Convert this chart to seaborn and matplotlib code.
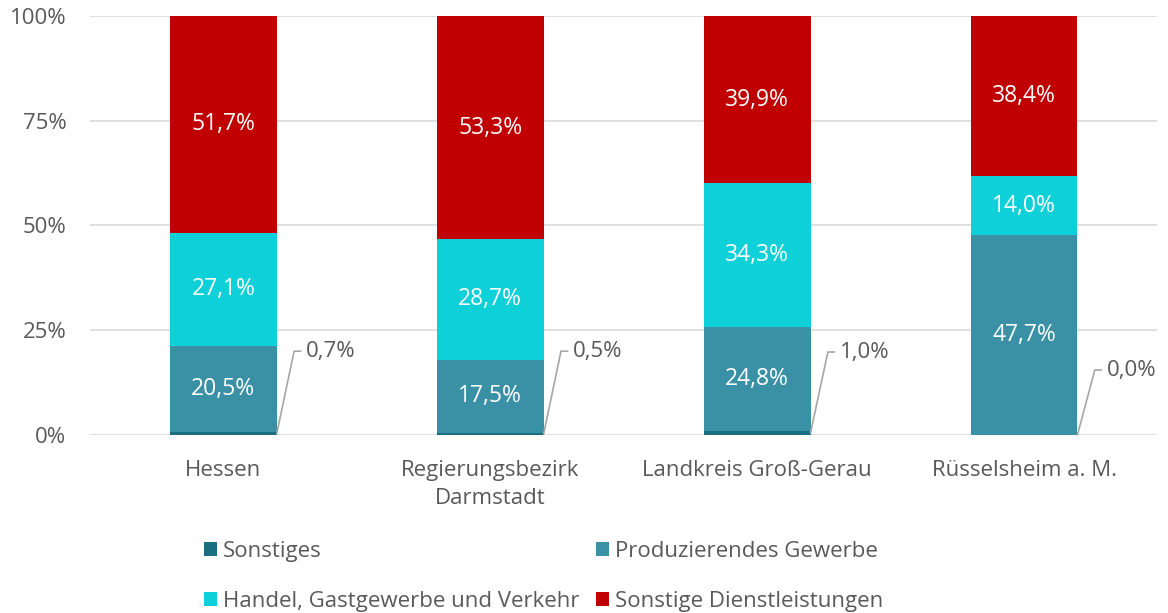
import numpy as np
import pandas as pd
import seaborn as sns
import matplotlib.pyplot as plt

regions = ["Hessen", "Regierungsbezirk\nDarmstadt", "Landkreis Groß-Gerau", "Rüsselsheim a. M."]
sectors = ["Sonstiges", "Produzierendes Gewerbe", "Handel, Gastgewerbe und Verkehr", "Sonstige Dienstleistungen"]
sonstiges = [0.7, 0.5, 1.0, 0.0]
produzierend = [20.5, 17.5, 24.8, 47.7]
handel = [27.1, 28.7, 34.3, 14.0]
dienst = [51.7, 53.3, 39.9, 38.4]
label_y = [20.0, 20.0, 19.8, 15.5]

colors = ["#1A6F80", "#3A91A6", "#0DD0D8", "#C00000"]
text_grey = "#595959"

sns.set_theme(style="white")
plt.rcParams["font.family"] = ["Open Sans", "DejaVu Sans"]

df = pd.DataFrame({"Region": regions, sectors[0]: sonstiges, sectors[1]: produzierend,
                   sectors[2]: handel, sectors[3]: dienst})

fig = plt.figure(figsize=(11.68, 6.13), dpi=100)
ax = fig.add_axes([0.077, 0.2904, 0.914, 0.6835])

bottom = np.zeros(len(regions))
for sec, col in zip(sectors, colors):
    sns.barplot(data=df, x="Region", y=sec, color=col, bottom=bottom, width=0.4,
                ax=ax, label=sec, saturation=1, edgecolor="none")
    bottom = bottom + df[sec].values

# labels inside bars
for i in range(len(regions)):
    base = sonstiges[i]
    for vals in (produzierend, handel, dienst):
        v = vals[i]
        ax.text(i, base + v / 2, f"{v:.1f}%".replace(".", ","), ha="center", va="center",
                color="white", fontsize=16.5)
        base += v
    # leader line for Sonstiges
    x0 = i + 0.2
    ax.plot([x0, x0 + 0.065, x0 + 0.09], [sonstiges[i] / 2, label_y[i], label_y[i]],
            color="#A6A6A6", lw=1.2, clip_on=False)
    ax.text(x0 + 0.11, label_y[i], f"{sonstiges[i]:.1f}%".replace(".", ","),
            ha="left", va="center", color=text_grey, fontsize=16)

ax.set_ylim(0, 100)
ax.set_xlim(-0.5, 3.5)
ax.set_yticks([0, 25, 50, 75, 100])
ax.set_yticklabels(["0%", "25%", "50%", "75%", "100%"])
ax.yaxis.grid(True, color="#D9D9D9", lw=1.2)
ax.set_axisbelow(True)
for s in ax.spines.values():
    s.set_visible(False)
ax.tick_params(axis="both", length=0, labelsize=16, colors=text_grey)
ax.tick_params(axis="y", pad=17)
ax.tick_params(axis="x", pad=18)
for t in ax.get_xticklabels():
    t.set_linespacing(1.45)
ax.set_xlabel("")
ax.set_ylabel("")

handles, labels = ax.get_legend_handles_labels()
order = [0, 2, 1, 3]
ax.legend([handles[k] for k in order], [labels[k] for k in order], ncol=2,
          loc="upper left", bbox_to_anchor=(0.088, -0.205), frameon=False,
          fontsize=16, labelcolor=text_grey, handlelength=0.6, handleheight=0.6,
          handletextpad=0.25, columnspacing=0.75, labelspacing=1.3)

fig.savefig("out.png", dpi=100)
